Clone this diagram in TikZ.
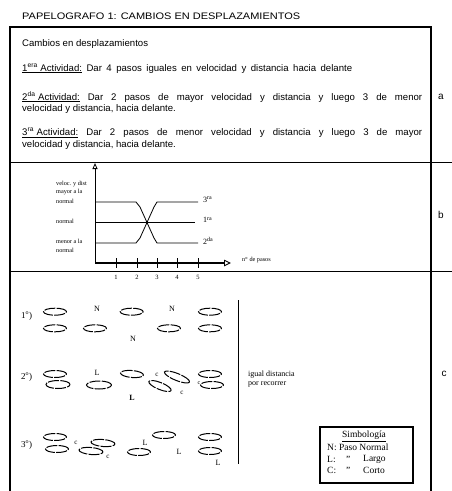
\documentclass[tikz,border=0pt]{standalone}
\usepackage{fontspec}
\usepackage{graphicx}
\setmainfont{Liberation Serif}
\newfontfamily\arialf{Liberation Sans}
\usetikzlibrary{shapes.geometric,arrows.meta}
\newcommand\sansat[1]{\arialf\fontsize{#1}{#1}\selectfont}
\newcommand\serat[1]{\rmfamily\fontsize{#1}{#1}\selectfont}
\begin{document}
\begin{tikzpicture}[x=1pt,y=-1pt,
  foot/.style={draw, ellipse, minimum width=23pt, minimum height=7pt, inner sep=0pt,
    line width=1pt, dash pattern=on 11pt off 1.3pt},
  sa/.style={font=\sansat{9.6}, inner sep=0pt, anchor=base west},
  letr/.style={font=\sansat{10}, inner sep=0pt},
  ylab/.style={font=\serat{6.2}, inner sep=0pt, anchor=west},
  clab/.style={font=\serat{8}, inner sep=0pt},
  symb/.style={font=\serat{9.5}, inner sep=0pt, anchor=west},
  frame/.style={line width=1.9pt},
  divider/.style={line width=0.9pt},
  curve/.style={line width=0.8pt}]
\useasboundingbox (0,0) rectangle (452,491);
% frame
\draw[line width=1.3pt] (10,27) -- (431,27);
\draw[frame] (10,26.4) -- (10,491);
\draw[frame] (431,26.4) -- (431,491);
\draw[divider] (10,162) -- (452,162);
\draw[divider] (10,271) -- (452,271);
% title
\node[sa] (title) at (22,19.5) {\resizebox{278pt}{6.6pt}{PAPELOGRAFO 1: CAMBIOS EN DESPLAZAMIENTOS}};
% section a
\node[sa] (t0) at (22,46) {Cambios en desplazamientos};
\node[sa] (t1) at (22,71) {\makebox[330pt][s]{\underline{1\textsuperscript{era} Actividad:} Dar 4 pasos iguales en velocidad y distancia hacia delante}};
\node[sa] (t2) at (22,100) {\makebox[400pt][s]{\underline{2\textsuperscript{da} Actividad:} Dar 2 pasos de mayor velocidad y distancia y luego 3 de menor}};
\node[sa] (t2b) at (22,111.5) {velocidad y distancia, hacia delante.};
\node[sa] (t3) at (22,135.5) {\makebox[400pt][s]{\underline{3\textsuperscript{ra} Actividad:} Dar 2 pasos de menor velocidad y distancia y luego 3 de mayor}};
\node[sa] (t3b) at (22,147) {velocidad y distancia, hacia delante.};
\node[letr] (la) at (441,97) {a};
\node[letr] (lb) at (441,215) {b};
\node[letr] (lc) at (444,374) {c};
% section b: axes
\coordinate (O) at (95,263);
\coordinate (ytop) at (95,163);
\coordinate (xend) at (231,263);
\draw[line width=0.8pt, -{Triangle[open,length=6pt,width=5pt]}] (O) -- (ytop);
\draw[line width=1.5pt, -{Triangle[open,length=7pt,width=6.5pt,line width=0.9pt]}] (O) -- (xend);
\foreach \x/\n in {116/1,137/2,157/3,177/4,198/5}{
  \draw[line width=0.8pt] (\x,258) -- (\x,268);
  \node[font=\serat{6.5}, inner sep=0pt] (tick\n) at (\x,277) {\n};
}
\node[ylab] (v1) at (56,184) {veloc. y dist};
\node[ylab] (v2) at (56,192.5) {mayor a la};
\node[ylab] (v3) at (56,201) {normal};
\node[ylab] (v4) at (56,221) {normal};
\node[ylab] (v5) at (56,241.5) {menor a la};
\node[ylab] (v6) at (56,250) {normal};
\node[ylab] (npasos) at (242,260) {n\textsuperscript{o} de pasos};
\draw[curve] (95,202) -- (136,202) -- (140,207) -- (154,238) -- (157,243) -- (198,243);
\draw[curve] (95,243) -- (136,243) -- (140,238) -- (154,207) -- (157,202) -- (198,202);
\draw[curve] (95,222) -- (195,222);
\node[font=\serat{8}, inner sep=0pt, anchor=west] (r3) at (203,200) {3\textsuperscript{ra}};
\node[font=\serat{8}, inner sep=0pt, anchor=west] (r1) at (203,220) {1\textsuperscript{ra}};
\node[font=\serat{8}, inner sep=0pt, anchor=west] (r2) at (203,241) {2\textsuperscript{da}};
% section c
\node[font=\serat{9}, inner sep=0pt, anchor=west] (row1) at (21,316) {1\textsuperscript{o})};
\node[font=\serat{9}, inner sep=0pt, anchor=west] (row2) at (21,377) {2\textsuperscript{o})};
\node[font=\serat{9}, inner sep=0pt, anchor=west] (row3) at (21,445) {3\textsuperscript{o})};
% row 1
\node[foot] (a1) at (55,311.7) {};
\node[foot] (a2) at (131.7,311.7) {};
\node[foot] (a3) at (210,311.7) {};
\node[foot] (b1) at (55,328.3) {};
\node[foot] (b2) at (95,328.3) {};
\node[foot] (b3) at (169,328.3) {};
\node[foot] (b4) at (210,328.3) {};
\node[clab] (n1) at (97,309) {N};
\node[clab] (n2) at (172,309) {N};
\node[clab] (n3) at (133,339) {N};
% row 2
\node[foot] (c1) at (55,374) {};
\node[foot, minimum width=24pt, minimum height=8pt] (c2) at (58,384.5) {};
\node[clab] (l1) at (97,373) {L};
\node[foot, minimum width=25pt, minimum height=8pt] (c3) at (99,385) {};
\node[foot, rotate=-5] (c4) at (132,374) {};
\node[clab, font=\serat{8}\bfseries] (l2) at (132,398) {L};
\node[clab, font=\serat{7}] (k1) at (157,375) {c};
\node[foot, rotate=-22, minimum width=27pt] (c5) at (177,377) {};
\node[foot, rotate=-22, minimum width=24pt] (c6) at (160,386) {};
\node[clab, font=\serat{7}] (k2) at (182,393) {c};
\node[foot] (c7) at (210,374) {};
\node[foot] (c8) at (212,385) {};
\node[clab, font=\serat{6}] (k3) at (199,383) {c};
% row 3
\node[foot] (d1) at (55,437) {};
\node[foot] (d2) at (57,449) {};
\node[clab, font=\serat{7}] (k4) at (76,443) {c};
\node[foot, rotate=-5, minimum width=24pt] (d3) at (103,443) {};
\node[foot, rotate=-5, minimum width=24pt] (d4) at (91,451) {};
\node[clab, font=\serat{7}] (k5) at (108,457) {c};
\node[foot] (d5) at (139,452) {};
\node[clab] (l3) at (145,443) {L};
\node[foot] (d6) at (164,435) {};
\node[clab] (l4) at (179,452) {L};
\node[foot] (d7) at (210,437) {};
\node[foot] (d8) at (210,451) {};
\node[clab] (l5) at (218,463) {L};
% separator and note
\coordinate (vt) at (238,300);
\coordinate (vb) at (238,464);
\draw[line width=1pt] (vt) -- (vb);
\node[font=\serat{8}, inner sep=0pt, anchor=west] (ig1) at (248,375) {igual distancia};
\node[font=\serat{8}, inner sep=0pt, anchor=west] (ig2) at (248,384) {por recorrer};
% simbologia box
\node[draw, line width=1.4pt, minimum width=93pt, minimum height=56pt, inner sep=0pt] (sbox) at (366.5,455) {};
\node[font=\serat{9.5}, inner sep=0pt] (st) at (364,436.5) {\underline{Simbología}};
\node[symb] (s1) at (327,447) {N: Paso Normal};
\node[symb] (s2) at (327,459) {L:};
\node[symb] (s2q) at (346,459) {"};
\node[symb] (s2w) at (363,459) {Largo};
\node[symb] (s3) at (327,470) {C:};
\node[symb] (s3q) at (346,470) {"};
\node[symb] (s3w) at (363,470) {Corto};
\end{tikzpicture}
\end{document}
